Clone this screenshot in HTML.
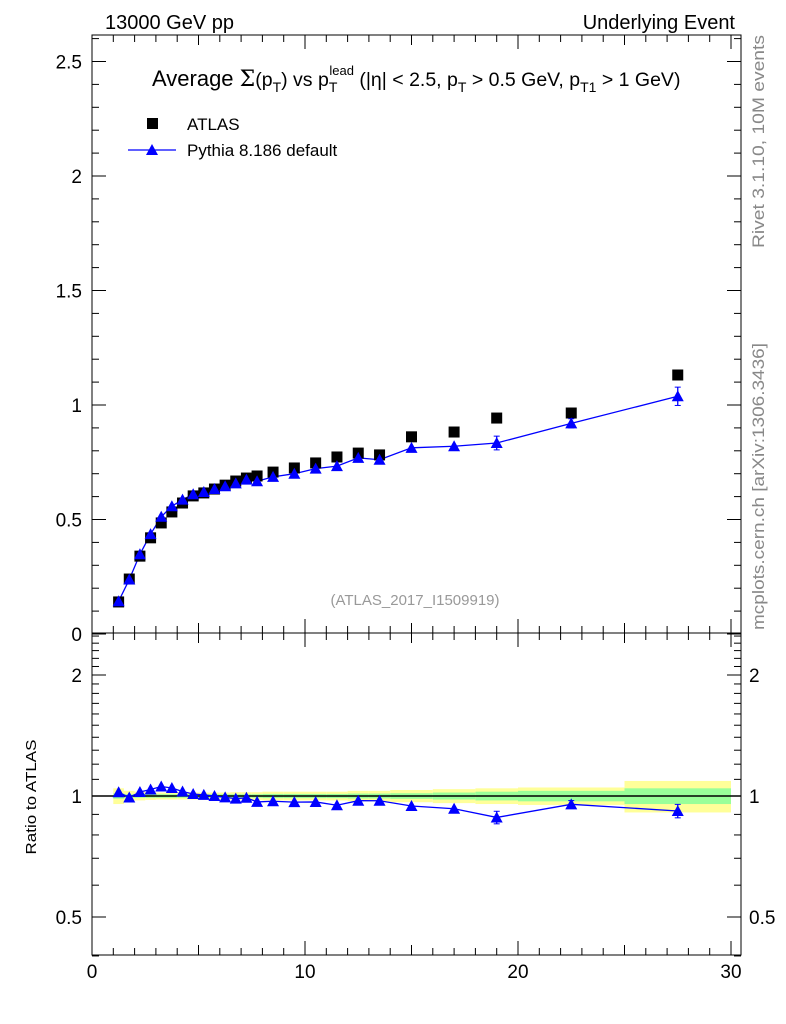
<!DOCTYPE html>
<html><head><meta charset="utf-8"><style>
body{margin:0;background:#fff;}
svg{display:block;font-family:"Liberation Sans",sans-serif;}
</style></head><body>
<svg id="c" width="786" height="1024" viewBox="0 0 786 1024" xmlns="http://www.w3.org/2000/svg">
<text x="105" y="29" font-size="20">13000 GeV pp</text>
<text x="735" y="29" font-size="20" text-anchor="end">Underlying Event</text>
<text x="152" y="86" font-size="22">Average <tspan font-family="DejaVu Serif">Σ</tspan><tspan font-size="19.5">(p</tspan><tspan font-size="14" dy="6">T</tspan><tspan font-size="19.5" dy="-6">) vs p</tspan><tspan font-size="14" dy="6">T</tspan><tspan font-size="13" dx="-8" dy="-17">lead</tspan><tspan font-size="19.5" dy="11"> (|η| &lt; 2.5, p</tspan><tspan font-size="14" dy="6">T</tspan><tspan font-size="19.5" dy="-6"> &gt; 0.5 GeV, p</tspan><tspan font-size="14" dy="6">T1</tspan><tspan font-size="19.5" dy="-6"> &gt; 1 GeV)</tspan></text>
<g>
<rect x="147" y="118" width="11" height="11" fill="#000"/>
<text x="187" y="130" font-size="17">ATLAS</text>
<line x1="128" y1="150" x2="176" y2="150" stroke="#00f" stroke-width="1.3"/>
<polygon points="146,155 158,155 152,144" fill="#00f"/>
<text x="187" y="156" font-size="17">Pythia 8.186 default</text>
</g>
<text x="415" y="605" font-size="15" fill="#999" text-anchor="middle">(ATLAS_2017_I1509919)</text>
<text transform="translate(764,248) rotate(-90)" font-size="17" fill="#888" textLength="213" lengthAdjust="spacingAndGlyphs">Rivet 3.1.10,  10M events</text>
<text transform="translate(764,630) rotate(-90)" font-size="17" fill="#888" textLength="287" lengthAdjust="spacingAndGlyphs">mcplots.cern.ch [arXiv:1306.3436]</text>
<text transform="translate(36,797) rotate(-90)" font-size="15" text-anchor="middle" textLength="115" lengthAdjust="spacingAndGlyphs">Ratio to ATLAS</text>
<g id="g"></g>
</svg>
<script>
const xCenters=[1.25,1.75,2.25,2.75,3.25,3.75,4.25,4.75,5.25,5.75,6.25,6.75,7.25,7.75,8.5,9.5,10.5,11.5,12.5,13.5,15,17,19,22.5,27.5];
const xEdges=[1,1.5,2,2.5,3,3.5,4,4.5,5,5.5,6,6.5,7,7.5,8,9,10,11,12,13,14,16,18,20,25,30];
const atlasValues=[0.14,0.24,0.34,0.42,0.485,0.533,0.572,0.603,0.616,0.633,0.65,0.668,0.681,0.69,0.707,0.725,0.747,0.773,0.79,0.782,0.861,0.882,0.943,0.965,1.131];
const atlasTotRel=[0.045,0.03,0.025,0.022,0.02,0.02,0.02,0.02,0.02,0.02,0.02,0.022,0.022,0.022,0.025,0.025,0.025,0.025,0.03,0.03,0.035,0.04,0.045,0.05,0.09];
const atlasStatRel=[0.015,0.01,0.01,0.01,0.01,0.01,0.01,0.01,0.01,0.01,0.01,0.01,0.01,0.01,0.012,0.012,0.012,0.012,0.014,0.014,0.016,0.02,0.025,0.03,0.045];
const pythiaValues=[0.143,0.238,0.348,0.436,0.512,0.558,0.587,0.61,0.62,0.633,0.645,0.658,0.674,0.667,0.686,0.70,0.722,0.733,0.769,0.761,0.813,0.82,0.834,0.92,1.038];
const pythiaErr=[0.002,0.002,0.003,0.003,0.003,0.003,0.003,0.004,0.004,0.004,0.004,0.005,0.005,0.005,0.005,0.006,0.007,0.008,0.008,0.009,0.01,0.015,0.03,0.02,0.04];
const mainTicks=[0,0.5,1,1.5,2,2.5];
const mainTickLabels=["0","0.5","1","1.5","2","2.5"];
const ratioTicks=[0.5,1,2];
const ratioTickLabels=["0.5","1","2"];
const xTicks=[0,10,20,30];

const L=92,R=741,T=35,M=633,B=955;
const sx=v=>92+v*21.3;
const sy=v=>634-v*229;
const ry=v=>796-Math.log2(v)*121;
const g=document.getElementById('g');
const NS='http://www.w3.org/2000/svg';
function mk(t,a,p){const e=document.createElementNS(NS,t);for(const k in a)e.setAttribute(k,a[k]);(p||g).appendChild(e);return e;}

for(let i=0;i<xCenters.length;i++){
  const x0=sx(xEdges[i]),x1=sx(xEdges[i+1]);
  let r=mk('rect',{x:x0,y:ry(1+atlasTotRel[i]),width:x1-x0,height:ry(1-atlasTotRel[i])-ry(1+atlasTotRel[i]),fill:'#ffff99'});
  
  
  r=mk('rect',{x:x0,y:ry(1+atlasStatRel[i]),width:x1-x0,height:ry(1-atlasStatRel[i])-ry(1+atlasStatRel[i]),fill:'#99ff99'});
  
  
}
let ln=mk('line',{x1:L,x2:R,y1:ry(1),y2:ry(1),stroke:'#000','stroke-width':1.5});



let f=mk('rect',{x:L,y:T,width:R-L,height:M-T,fill:'none',stroke:'#000','stroke-width':1});


f=mk('rect',{x:L,y:M,width:R-L,height:B-M,fill:'none',stroke:'#000','stroke-width':1});



for(let v=0;v<=2.6001;v+=0.1){const y=sy(v);if(y<T)continue;const big=Math.abs(v*2-Math.round(v*2))<1e-6;const len=big?14:7;
  mk('line',{x1:L,x2:L+len,y1:y,y2:y,stroke:'#000'});mk('line',{x1:R-len,x2:R,y1:y,y2:y,stroke:'#000'});}
mainTicks.forEach((v,i)=>{const t=mk('text',{x:82,y:sy(v)+7,'font-size':19,'text-anchor':'end'});t.textContent=mainTickLabels[i];
  
  });
[0.4,0.5,0.6,0.7,0.8,0.9,1,2].forEach(v=>{const y=ry(v);const big=(v==0.5||v==1||v==2);const len=big?14:7;
  mk('line',{x1:L,x2:L+len,y1:y,y2:y,stroke:'#000'});mk('line',{x1:R-len,x2:R,y1:y,y2:y,stroke:'#000'});});
for(let v=1.1;v<2.55;v+=0.1){const y=ry(v);if(y<M)continue;mk('line',{x1:L,x2:L+7,y1:y,y2:y,stroke:'#000'});mk('line',{x1:R-7,x2:R,y1:y,y2:y,stroke:'#000'});}
ratioTicks.forEach((v,i)=>{let t=mk('text',{x:82,y:ry(v)+7,'font-size':19,'text-anchor':'end'});t.textContent=ratioTickLabels[i];
  
  
  t=mk('text',{x:749,y:ry(v)+7,'font-size':19});t.textContent=ratioTickLabels[i];
  
  });
for(let v=0;v<=30.5;v+=1){const x=sx(v);if(x>R)continue;const big=v%10==0;const len=big?14:(v%5==0?10:7);
  [[B,-1],[M,-1],[M,1],[T,1]].forEach(([y0,d])=>mk('line',{x1:x,x2:x,y1:y0,y2:y0+d*len,stroke:'#000'}));}
xTicks.forEach(v=>{const t=mk('text',{x:sx(v),y:978,'font-size':19,'text-anchor':'middle'});t.textContent=v;
  
  });

let pts=xCenters.map((x,i)=>sx(x)+','+sy(pythiaValues[i])).join(' ');
let pl=mk('polyline',{points:pts,fill:'none',stroke:'#00f','stroke-width':1.3});


const ratio=pythiaValues.map((p,i)=>p/atlasValues[i]);
pts=xCenters.map((x,i)=>sx(x)+','+ry(ratio[i])).join(' ');
pl=mk('polyline',{points:pts,fill:'none',stroke:'#00f','stroke-width':1.3});



xCenters.forEach((x,i)=>{
  const X=sx(x);
  let s=mk('rect',{x:X-5.5,y:sy(atlasValues[i])-5.5,width:11,height:11,fill:'#000'});
  
  
  const Y=sy(pythiaValues[i]),e=pythiaErr[i]*229;
  if(e>4){mk('line',{x1:X,x2:X,y1:Y-e,y2:Y+e,stroke:'#00f','stroke-width':1.3});mk('line',{x1:X-3,x2:X+3,y1:Y-e,y2:Y-e,stroke:'#00f'});mk('line',{x1:X-3,x2:X+3,y1:Y+e,y2:Y+e,stroke:'#00f'});}
  let p=mk('polygon',{points:`${X-6},${Y+5} ${X+6},${Y+5} ${X},${Y-6}`,fill:'#00f'});
  
  
  const RY=ry(ratio[i]),re=pythiaErr[i]/atlasValues[i];
  if(e>4){const a=ry(ratio[i]+re),b=ry(ratio[i]-re);mk('line',{x1:X,x2:X,y1:a,y2:b,stroke:'#00f','stroke-width':1.3});mk('line',{x1:X-3,x2:X+3,y1:a,y2:a,stroke:'#00f'});mk('line',{x1:X-3,x2:X+3,y1:b,y2:b,stroke:'#00f'});}
  p=mk('polygon',{points:`${X-6},${RY+5} ${X+6},${RY+5} ${X},${RY-6}`,fill:'#00f'});
  
  
});
</script>
</body></html>
